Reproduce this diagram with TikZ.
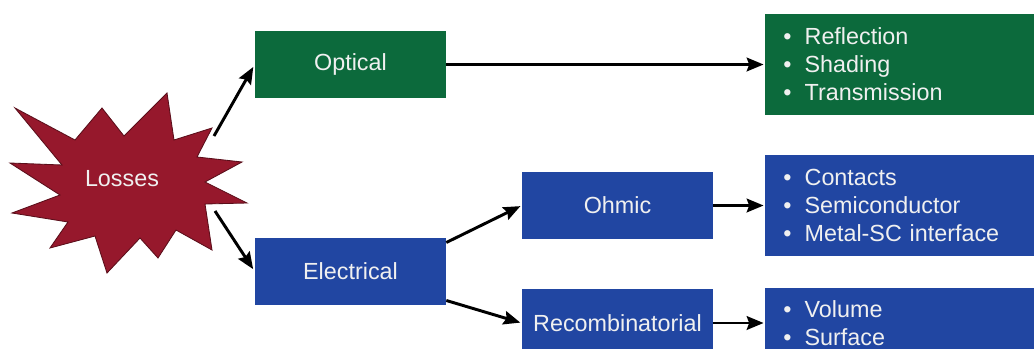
\documentclass[tikz,border=0pt]{standalone}
\usepackage{fontspec}
\setmainfont{Liberation Sans}
\usetikzlibrary{arrows.meta,positioning}
\definecolor{optgreen}{RGB}{12,106,60}
\definecolor{elblue}{RGB}{33,70,162}
\definecolor{lossred}{RGB}{150,24,44}
\colorlet{boxtext}{white!94!black}
\newcommand{\lossitem}[1]{\textbullet\hspace{0.33cm}#1}

\begin{document}
\begin{tikzpicture}[x=0.025cm,y=-0.025cm,
  box/.style={minimum width=4.775cm,minimum height=1.675cm,inner sep=0pt,text=boxtext,
    font=\fontsize{16.6}{20}\selectfont},
  listbox/.style={anchor=west,text width=6.3cm,inner xsep=0.45cm,inner ysep=0pt,align=left,
    text=boxtext,font=\fontsize{16.6}{19.9}\selectfont},
  arr/.style={line width=2.1pt,-{Stealth[length=0.42cm,width=0.34cm,inset=0.06cm]}}]
\useasboundingbox (0,0) rectangle (1034,349);
\clip (0,0) rectangle (1034,349);
\filldraw[fill=lossred,draw=lossred!60!black,line width=0.6pt] (15,108) -- (75,140) -- (102,108) -- (124,136) -- (167,93) -- (174,140) -- (212,128) -- (197,157) -- (242,162) -- (205,182) -- (247,203) -- (205,204) -- (212,250) -- (176,230) -- (158,258) -- (140,238) -- (107,273) -- (95,236) -- (50,248) -- (68,222) -- (12,213) -- (60,195) -- (10,163) -- (62,165) -- cycle;
\node[text=boxtext,font=\fontsize{16.6}{20}\selectfont] (losses) at (122,179) {Losses};
\coordinate (s1) at (214,136);
\coordinate (s2) at (215,211);
\node[box,fill=optgreen] (optical) at (350.5,64.5) {Optical};
\node[box,fill=elblue] (electrical) at (350.5,271.5) {Electrical};
\node[box,fill=elblue] (ohmic) at (617.5,205.5) {Ohmic};
\node[box,fill=elblue] (recomb) at (617.5,323) {Recombinatorial};
\node[listbox,fill=optgreen,minimum height=2.525cm] (optlist) at (765,64.5) {\lossitem{Reflection}\\\lossitem{Shading}\\\lossitem{Transmission}};
\node[listbox,fill=elblue,minimum height=2.525cm] (ohmlist) at (765,205.5) {\lossitem{Contacts}\\\lossitem{Semiconductor}\\\lossitem{Metal-SC interface}};
\node[listbox,fill=elblue,minimum height=1.725cm] (reclist) at (765,323) {\lossitem{Volume}\\\lossitem{Surface}};
\draw[arr,shorten >=2pt] (s1) -- (optical.west);
\draw[arr,shorten >=2pt] (s2) -- (electrical.west);
\draw[arr,shorten >=1pt] (optical.east) -- (optlist.west);
\draw[arr,shorten >=1pt] ([yshift=-0.12cm]electrical.north east) -- (ohmic.west);
\draw[arr,shorten >=1pt] ([yshift=0.12cm]electrical.south east) -- (recomb.west);
\draw[arr,shorten >=1pt] (ohmic.east) -- (ohmlist.west);
\draw[arr,shorten >=1pt] (recomb.east) -- (reclist.west);
\end{tikzpicture}
\end{document}
